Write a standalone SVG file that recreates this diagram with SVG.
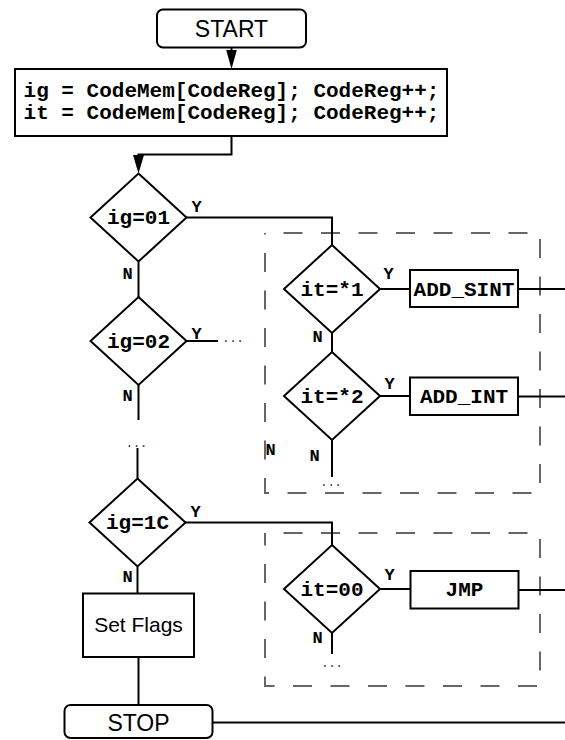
<svg xmlns="http://www.w3.org/2000/svg" width="565" height="740" viewBox="0 0 565 740">
<style>
.box{fill:#fff;stroke:#000;stroke-width:2}
.ln{fill:none;stroke:#000;stroke-width:2}
.dash{fill:none;stroke:#666;stroke-width:2;stroke-dasharray:19 18.5;stroke-dashoffset:19}
.sans{font-family:"Liberation Sans",Arial,sans-serif;font-size:23px;fill:#000;text-anchor:middle}
.code{font-family:"Liberation Mono","Courier New",monospace;font-weight:bold;font-size:21px;fill:#000;text-anchor:middle}
.lbl{font-family:"Liberation Mono","Courier New",monospace;font-weight:bold;font-size:17px;fill:#000}
.dots{font-family:"Liberation Mono",monospace;font-size:12px;fill:#333;text-anchor:middle}
.ah{fill:#000}
</style>
<rect width="565" height="740" fill="#fff"/>
<g id="groups">
<rect class="dash" x="265" y="233" width="275" height="260"/>
<rect class="dash" x="265" y="533" width="275" height="153"/>
</g>
<g id="connectors">
<path class="ln" d="M231.5,47 V51"/>
<polygon class="ah" points="226.2,50 236.8,50 231.5,69"/>
<path class="ln" d="M231.5,136 V154.5 H138.5 V157"/>
<polygon class="ah" points="133,155 144,155 138.5,173.5"/>
<path class="ln" d="M186.5,217.5 H332 V245"/>
<path class="ln" d="M138.5,261.5 V297"/>
<path class="ln" d="M186.5,341 H218"/>
<path class="ln" d="M138.5,385 V420"/>
<path class="ln" d="M137.5,448 V478.5"/>
<path class="ln" d="M185.5,522.5 H332 V545"/>
<path class="ln" d="M137.5,566.5 V593"/>
<path class="ln" d="M138.5,657 V705"/>
<path class="ln" d="M380,289 H410"/>
<path class="ln" d="M518,289 H565"/>
<path class="ln" d="M332,333 V352"/>
<path class="ln" d="M380,396 H410"/>
<path class="ln" d="M518,396.5 H565"/>
<path class="ln" d="M332,440 V477"/>
<path class="ln" d="M380,589 H410.5"/>
<path class="ln" d="M518.5,590 H565"/>
<path class="ln" d="M332,633 V654"/>
<path class="ln" d="M212.5,722.5 H565"/>
<text class="lbl" x="191.5" y="212">Y</text>
<text class="lbl" x="122.5" y="278.5">N</text>
<text class="lbl" x="191.5" y="339">Y</text>
<text class="lbl" x="122.5" y="401">N</text>
<text class="lbl" x="190.5" y="517">Y</text>
<text class="lbl" x="122.5" y="582">N</text>
<text class="lbl" x="383.5" y="279">Y</text>
<text class="lbl" x="312.5" y="342">N</text>
<text class="lbl" x="384.5" y="389">Y</text>
<text class="lbl" x="309.5" y="461">N</text>
<text class="lbl" x="265.5" y="455">N</text>
<text class="lbl" x="384.5" y="580">Y</text>
<text class="lbl" x="312.5" y="643">N</text>
<text class="dots" x="233" y="342">...</text>
<text class="dots" x="136.5" y="447">...</text>
<text class="dots" x="331" y="486">...</text>
<text class="dots" x="332" y="667">...</text>
</g>
<g id="start">
<rect class="box" x="157" y="9.5" width="149" height="38" rx="6"/>
<text class="sans" x="231.5" y="37">START</text>
</g>
<g id="fetch">
<rect class="box" x="15" y="69" width="432" height="67"/>
<text class="code" x="231.5" y="97">ig = CodeMem[CodeReg]; CodeReg++;</text>
<text class="code" x="231.5" y="119">it = CodeMem[CodeReg]; CodeReg++;</text>
</g>
<g id="ig01">
<polygon class="box" points="138.5,173.5 186.5,217.5 138.5,261.5 90.5,217.5"/>
<text class="code" x="138.5" y="224">ig=01</text>
</g>
<g id="ig02">
<polygon class="box" points="138.5,297 186.5,341 138.5,385 90.5,341"/>
<text class="code" x="138.5" y="347.5">ig=02</text>
</g>
<g id="ig1C">
<polygon class="box" points="137.5,478.5 185.5,522.5 137.5,566.5 89.5,522.5"/>
<text class="code" x="137.5" y="529">ig=1C</text>
</g>
<g id="it1">
<polygon class="box" points="332,245 380,289 332,333 284,289"/>
<text class="code" x="332" y="295.5">it=*1</text>
</g>
<g id="add_sint">
<rect class="box" x="410" y="270" width="108" height="37"/>
<text class="code" x="464" y="295.5">ADD_SINT</text>
</g>
<g id="it2">
<polygon class="box" points="332,352 380,396 332,440 284,396"/>
<text class="code" x="332" y="402.5">it=*2</text>
</g>
<g id="add_int">
<rect class="box" x="410" y="377.5" width="108" height="37.5"/>
<text class="code" x="464" y="403">ADD_INT</text>
</g>
<g id="it00">
<polygon class="box" points="332,545 380,589 332,633 284,589"/>
<text class="code" x="332" y="595.5">it=00</text>
</g>
<g id="jmp">
<rect class="box" x="410.5" y="571" width="108" height="37.5"/>
<text class="code" x="464.5" y="596">JMP</text>
</g>
<g id="setflags">
<rect class="box" x="83" y="593.5" width="111" height="63.5"/>
<text class="sans" x="138.5" y="632" style="font-size:21px">Set Flags</text>
</g>
<g id="stop">
<rect class="box" x="64.5" y="705" width="148" height="33" rx="6"/>
<text class="sans" x="138.5" y="731">STOP</text>
</g>
</svg>
